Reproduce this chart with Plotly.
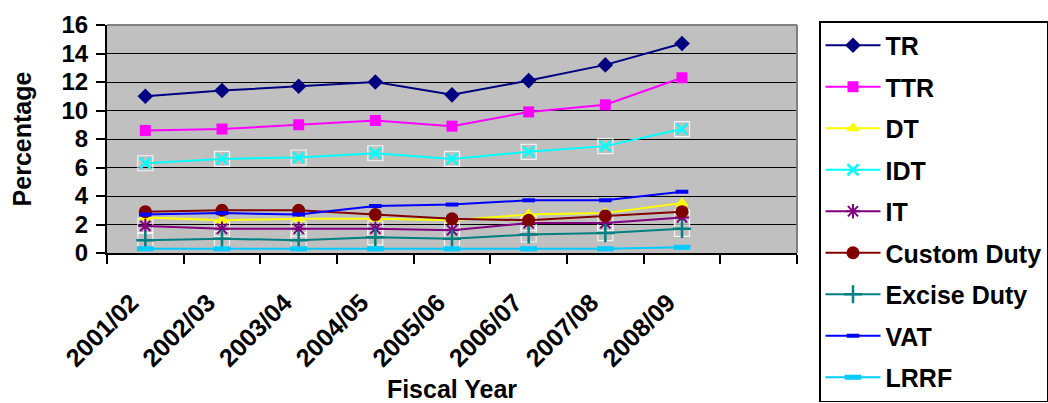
import plotly.graph_objects as go

# Fiscal years and tax-to-GDP style ratios (percent)
years = ["2001/02", "2002/03", "2003/04", "2004/05", "2005/06", "2006/07", "2007/08", "2008/09"]
tr = [11.0, 11.4, 11.7, 12.0, 11.1, 12.1, 13.2, 14.7]
ttr = [8.6, 8.7, 9.0, 9.3, 8.9, 9.9, 10.4, 12.3]
dt = [2.5, 2.3, 2.4, 2.4, 2.3, 2.7, 2.8, 3.5]
idt = [6.3, 6.6, 6.7, 7.0, 6.6, 7.1, 7.5, 8.7]
it = [1.9, 1.7, 1.7, 1.7, 1.6, 2.1, 2.1, 2.5]
custom_duty = [2.9, 3.0, 3.0, 2.7, 2.4, 2.3, 2.6, 2.9]
excise_duty = [0.9, 1.0, 0.9, 1.1, 1.0, 1.3, 1.4, 1.7]
vat = [2.7, 2.8, 2.7, 3.3, 3.4, 3.7, 3.7, 4.3]
lrrf = [0.3, 0.3, 0.3, 0.3, 0.3, 0.3, 0.3, 0.4]

x = list(range(len(years)))
FONT = "Liberation Sans, Arial, sans-serif"

series = [
    ("TR", tr, "#000080", "diamond", 12, 0),
    ("TTR", ttr, "#FF00FF", "square", 11, 0),
    ("DT", dt, "#FFFF00", "triangle-up", 12, 0),
    ("IDT", idt, "#00FFFF", "x-thin-open", 11, 2.5),
    ("IT", it, "#800080", "asterisk-open", 12, 2),
    ("Custom Duty", custom_duty, "#800000", "circle", 13, 0),
    ("Excise Duty", excise_duty, "#008080", "cross-thin-open", 13, 2.5),
    ("VAT", vat, "#0000FF", "line-ew-open", 9, 4),
    ("LRRF", lrrf, "#00CCFF", "line-ew-open", 12, 5),
]

fig = go.Figure()

# faint white boxes behind the open markers
box_white = "rgba(255,255,255,0.8)"
for name, vals in (("IDT", idt), ("IT", it), ("Excise Duty", excise_duty)):
    fig.add_trace(go.Scatter(
        x=x, y=vals, mode="markers", showlegend=False, hoverinfo="skip",
        legendgroup=name,
        marker=dict(symbol="square-open", size=15, color=box_white,
                    line=dict(color=box_white, width=1.2)),
    ))

for name, vals, color, symbol, size, lw in series:
    marker = dict(symbol=symbol, size=size, color=color)
    if lw:
        marker["line"] = dict(color=color, width=lw)
    fig.add_trace(go.Scatter(
        x=x, y=vals, name=name, mode="lines+markers", legendgroup=name,
        line=dict(color=color, width=2), marker=marker,
    ))

# gray frame on the top and right of the plot area
fig.add_shape(type="line", xref="paper", yref="paper", x0=0, x1=1, y0=1, y1=1,
              line=dict(color="#808080", width=2), layer="above")
fig.add_shape(type="line", xref="paper", yref="paper", x0=1, x1=1, y0=0, y1=1,
              line=dict(color="#808080", width=2), layer="above")

fig.update_layout(
    width=1048, height=403,
    margin=dict(l=107, r=251, t=25, b=150, autoexpand=False),
    paper_bgcolor="white", plot_bgcolor="#C0C0C0",
    font=dict(family=FONT, size=24, color="black", weight="bold"),
    showlegend=True,
    legend=dict(
        x=(819 - 107) / 690, xanchor="left", y=(253 - 21) / 228, yanchor="top",
        bgcolor="white", bordercolor="black", borderwidth=1.5,
        traceorder="grouped", tracegroupgap=6, itemwidth=55, maxheight=400,
        font=dict(family=FONT, size=25, color="black", weight="bold"),
    ),
    xaxis=dict(
        range=[-0.5, 8.5], tickmode="array", tickvals=x, ticktext=years,
        tickangle=-45, ticks="", ticklabelstandoff=23, ticklabelshift=-14,
        tickfont=dict(family=FONT, size=25, weight="bold"),
        showgrid=False, zeroline=False, showline=True, linecolor="black", linewidth=2,
        minor=dict(ticks="outside", tick0=-0.5, dtick=1, ticklen=9,
                   tickcolor="black", tickwidth=2, showgrid=False),
        title=dict(text="Fiscal Year", font=dict(family=FONT, size=25, weight="bold"),
                   standoff=24),
        automargin=False,
    ),
    yaxis=dict(
        range=[0, 16], dtick=2, tick0=0,
        ticks="outside", ticklen=9, tickcolor="black", tickwidth=2,
        ticklabelstandoff=3,
        tickfont=dict(family=FONT, size=24, weight="bold"),
        showgrid=True, gridcolor="black", gridwidth=1.3, zeroline=False,
        showline=True, linecolor="black", linewidth=2,
        title=dict(text="Percentage", font=dict(family=FONT, size=25, weight="bold"),
                   standoff=23),
        automargin=False,
    ),
)

fig.write_html("out.html")
